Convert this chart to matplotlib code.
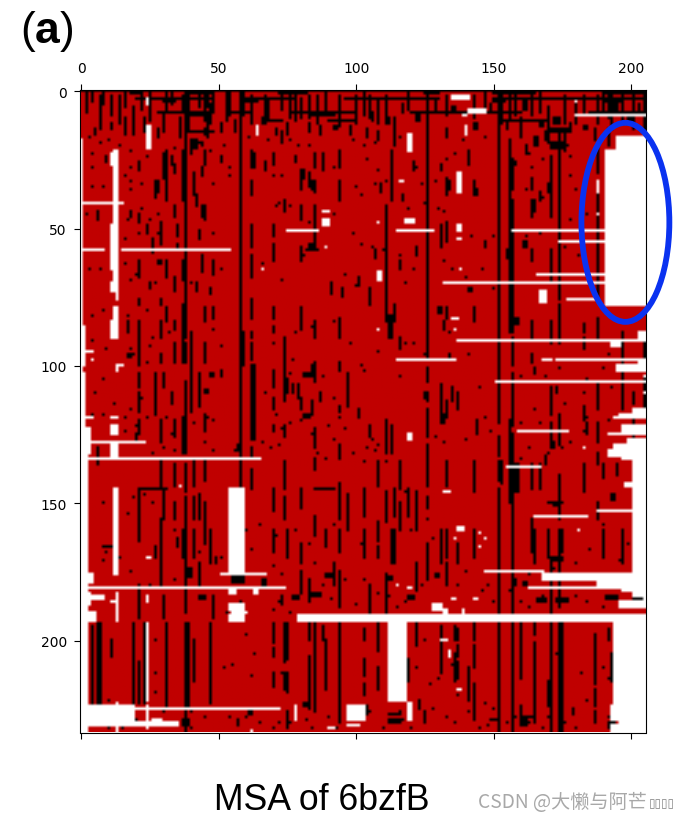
import numpy as np
import matplotlib
matplotlib.use("Agg")
import matplotlib.pyplot as plt
from matplotlib.colors import ListedColormap
from matplotlib.patches import Ellipse

N_ROWS, N_COLS = 234, 206
RED, BLACK, WHITE = 0, 1, 2
x_ticks = [0, 50, 100, 150, 200]
y_ticks = [0, 50, 100, 150, 200]

# long vertical black runs: column -> [(first row, last row), ...]
black_columns = {
    2: [(1, 8)], 4: [(195, 223), (1, 4)], 6: [(194, 223), (130, 136)], 7: [(194, 223), (2, 14)], 8: [(1, 5)],
    11: [(200, 206), (2, 9)], 14: [(2, 12)], 16: [(1, 6), (10, 16)], 17: [(84, 88)], 19: [(194, 223), (6, 13)],
    21: [(26, 29), (76, 78), (84, 100), (103, 108), (110, 117), (120, 125), (146, 156), (156, 164), (180, 192), (208, 223)],
    22: [(1, 7)], 23: [(194, 223), (10, 15)], 25: [(1, 11)], 27: [(34, 39), (103, 118), (166, 170)],
    29: [(76, 78), (84, 90), (96, 99), (120, 128), (134, 144), (156, 180)], 30: [(23, 32), (103, 108), (148, 156), (184, 192), (8, 15)],
    31: [(22, 40), (79, 84), (194, 225), (1, 7)], 33: [(1, 5)],
    34: [(27, 30), (42, 46), (84, 87), (92, 99), (120, 126), (136, 144), (150, 156)], 36: [(10, 17)],
    37: [(22, 40), (78, 99), (119, 132), (160, 170), (2, 7)], 38: [(0, 20), (18, 76), (76, 90), (92, 99), (106, 132), (136, 146), (148, 190), (194, 233)],
    39: [(0, 14), (194, 225)], 40: [(88, 117), (18, 23)], 41: [(30, 38), (134, 144), (148, 156), (160, 170), (200, 215)],
    43: [(103, 115), (147, 156), (172, 180), (2, 6)], 45: [(22, 27), (42, 47), (79, 84), (92, 99), (118, 124), (135, 142), (1, 11), (150, 165)],
    46: [(1, 6), (10, 17)], 47: [(194, 223), (160, 172), (5, 12)], 48: [(79, 83), (1, 8), (184, 192)],
    53: [(1, 11)], 54: [(1, 9)], 58: [(0, 144), (145, 146)], 59: [(1, 9), (88, 100)], 62: [(22, 28), (33, 38), (49, 57), (60, 68), (76, 83), (88, 90), (92, 98), (100, 127), (130, 133), (138, 145), (2, 12)],
    63: [(23, 28), (100, 127)], 67: [(2, 9)], 68: [(4, 10)],
    70: [(23, 27), (49, 53), (56, 62), (79, 83), (86, 88), (102, 108), (112, 116), (122, 124), (145, 153), (194, 201), (203, 206), (212, 217), (160, 168)],
    73: [(1, 7), (15, 19)], 74: [(40, 44), (90, 99), (100, 113), (122, 126), (135, 145), (148, 156), (194, 208), (212, 218)],
    75: [(194, 207), (212, 219), (105, 110), (160, 170)], 76: [(2, 10)], 78: [(1, 11)],
    80: [(30, 36), (42, 47), (57, 62), (79, 83), (84, 87), (112, 116), (145, 152), (165, 172), (175, 183), (3, 10)],
    83: [(30, 35), (194, 200), (206, 225), (178, 186), (2, 10)], 85: [(23, 28), (33, 37), (42, 56), (84, 90), (99, 106), (123, 130), (134, 138), (194, 225), (155, 162)],
    86: [(2, 12)], 88: [(23, 29), (195, 200)], 89: [(200, 218), (160, 166), (1, 8)],
    92: [(172, 180)], 94: [(22, 28), (33, 40), (83, 90), (99, 102), (129, 134), (194, 230), (143, 156), (175, 188), (160, 168), (2, 13)],
    97: [(103, 115), (147, 160)], 100: [(2, 12)], 103: [(196, 200), (207, 213), (216, 220), (1, 9), (145, 155), (160, 170)],
    105: [(72, 78), (180, 190), (2, 10)], 108: [(135, 144), (157, 164), (166, 170), (194, 204), (210, 218), (3, 12)],
    111: [(42, 76), (76, 84), (120, 132), (146, 157), (176, 190), (2, 9)], 113: [(22, 40), (82, 90), (122, 132), (205, 222), (160, 172)],
    114: [(78, 84), (160, 172), (145, 155), (10, 20), (194, 200)], 116: [(90, 94), (135, 145), (150, 160)], 119: [(145, 155), (1, 7), (207, 215)],
    122: [(146, 160), (194, 202), (172, 182)],
    126: [(0, 20), (20, 98), (101, 106), (110, 113), (116, 126), (129, 132), (133, 144), (148, 152), (165, 178)],
    131: [(107, 120), (195, 212), (160, 172)], 133: [(32, 38), (48, 55), (79, 83), (113, 117), (135, 144), (160, 170), (2, 9), (172, 180)],
    136: [(195, 200), (205, 215)], 137: [(196, 200), (202, 206), (208, 214), (165, 172), (110, 116)],
    141: [(22, 27), (210, 222)], 143: [(33, 38), (79, 84), (135, 146), (194, 200), (202, 210), (216, 229), (160, 170), (2, 10)],
    147: [(1, 8)], 152: [(0, 121), (126, 133), (135, 142), (145, 156), (156, 190), (194, 233)],
    153: [(1, 12), (135, 143)], 156: [(18, 88), (2, 10), (120, 150)],
    157: [(25, 36), (40, 88), (90, 100), (103, 122), (125, 145), (145, 233)], 158: [(1, 9)], 160: [(194, 214), (224, 231), (10, 16)],
    164: [(32, 36), (40, 46), (84, 90), (96, 99), (58, 62), (2, 9), (136, 145), (156, 168)], 165: [(194, 198), (201, 230), (160, 172)],
    167: [(136, 145), (1, 8)], 170: [(6, 14), (215, 224), (160, 170)],
    171: [(24, 46), (58, 70), (84, 92), (108, 118), (121, 130), (194, 233), (172, 190)], 174: [(14, 76), (78, 92), (118, 129), (140, 156), (160, 188), (194, 233)], 175: [(194, 233), (160, 168)],
    176: [(2, 12), (16, 22)], 180: [(5, 12)],
    183: [(90, 94), (115, 120), (140, 146), (2, 9)], 187: [(198, 216), (218, 224), (226, 230)],
    188: [(20, 30), (33, 76), (83, 90), (106, 116), (121, 128), (132, 136), (150, 156), (2, 12)],
    190: [(136, 141), (160, 170), (2, 9)], 192: [(2, 10), (14, 20), (196, 200)],
    193: [(2, 14), (205, 215)], 197: [(2, 12), (88, 116), (160, 172)], 201: [(2, 14), (110, 114), (120, 127)], 205: [(104, 116), (1, 14), (92, 100)],
}

# short black blocks as (first col, last col, first row, last row)
black_blocks = [
    (41, 42, 18, 21), (45, 46, 14, 16), (80, 81, 29, 32), (27, 28, 33, 37), (83, 85, 56, 57),
    (33, 33, 24, 27), (31, 31, 62, 68), (34, 34, 68, 73), (37, 37, 62, 69), (44, 44, 28, 31), (44, 44, 42, 46),
    (29, 29, 48, 56), (26, 26, 54, 59), (21, 21, 62, 68), (44, 44, 60, 66), (48, 48, 62, 67), (71, 71, 14, 16),
    (92, 93, 13, 14), (98, 98, 13, 16), (66, 67, 10, 12), (83, 83, 12, 15), (51, 51, 12, 15), (87, 87, 13, 16),
    (11, 11, 12, 14), (5, 5, 14, 16), (19, 19, 13, 16), (28, 28, 14, 17), (56, 56, 11, 15), (75, 75, 12, 16),
    (106, 106, 8, 11), (111, 112, 10, 12), (117, 117, 5, 8), (122, 123, 9, 11), (129, 129, 4, 7), (135, 136, 6, 8),
    (143, 144, 12, 14), (149, 149, 5, 8), (155, 155, 11, 14), (161, 162, 4, 7), (167, 168, 11, 13), (172, 174, 10, 12),
    (169, 170, 15, 18), (178, 178, 12, 15), (183, 184, 13, 14), (194, 195, 5, 7), (199, 200, 10, 12), (203, 203, 5, 9),
    (187, 187, 14, 18), (165, 166, 17, 20), (171, 175, 20, 21), (162, 162, 20, 23), (133, 133, 14, 17), (108, 108, 15, 18),
    (104, 104, 14, 17), (157, 158, 26, 27), (157, 157, 33, 35), (167, 167, 37, 40),
    (84, 84, 33, 36), (78, 78, 24, 26), (67, 67, 26, 29), (51, 51, 24, 26), (9, 9, 24, 26), (6, 6, 44, 47), (21, 21, 45, 48),
    (18, 18, 44, 46), (35, 35, 49, 53), (24, 24, 49, 52), (42, 42, 38, 42), (43, 43, 51, 54), (35, 35, 56, 58),
    (28, 29, 62, 63), (25, 25, 70, 72), (42, 42, 70, 73), (47, 47, 72, 74), (91, 91, 70, 74), (95, 95, 72, 75),
    (134, 134, 33, 36), (131, 131, 27, 29), (121, 121, 26, 29), (117, 117, 38, 40), (109, 109, 34, 37), (144, 144, 36, 38),
    (170, 170, 34, 37), (165, 165, 40, 44), (182, 182, 44, 46), (147, 147, 55, 57), (131, 131, 49, 57), (122, 122, 57, 60),
    (161, 162, 55, 57), (155, 155, 58, 61), (107, 107, 58, 61), (101, 101, 68, 71), (141, 142, 72, 73), (116, 116, 62, 65),
    (30, 30, 145, 150), (33, 33, 110, 114), (20, 20, 125, 128), (17, 18, 96, 97), (47, 48, 103, 104), (45, 45, 92, 95),
    (45, 46, 109, 110), (51, 51, 102, 104), (81, 84, 103, 104), (84, 84, 100, 103), (77, 77, 107, 110), (79, 79, 107, 112),
    (84, 84, 113, 118), (81, 83, 118, 119), (87, 87, 110, 113), (94, 94, 115, 117), (57, 57, 129, 131),
    (112, 112, 82, 90), (130, 131, 79, 81), (132, 132, 84, 87), (125, 125, 110, 112), (134, 134, 96, 98), (144, 144, 120, 125),
    (131, 131, 113, 116), (135, 135, 108, 113), (132, 133, 118, 119), (158, 159, 83, 85), (165, 165, 101, 103), (173, 173, 108, 110),
    (184, 184, 121, 125), (183, 183, 85, 88), (172, 172, 128, 130), (169, 169, 133, 135), (195, 195, 136, 140), (193, 194, 147, 149),
    (183, 183, 136, 140), (158, 159, 136, 146), (131, 132, 120, 121), (105, 105, 122, 126), (101, 101, 116, 119),
    (39, 40, 174, 177), (35, 35, 163, 166), (43, 45, 184, 185), (49, 49, 170, 172), (77, 79, 184, 185), (84, 87, 183, 184),
    (73, 73, 184, 187), (89, 91, 176, 177), (66, 67, 178, 180), (111, 113, 177, 178), (119, 121, 184, 185),
    (166, 169, 185, 186), (173, 177, 185, 186), (191, 195, 184, 185), (161, 162, 179, 180), (157, 158, 178, 180), (171, 175, 170, 171),
    (172, 174, 150, 151), (75, 75, 226, 232), (61, 62, 226, 227), (81, 83, 223, 224), (37, 39, 229, 231), (57, 57, 229, 231),
    (129, 130, 176, 177), (123, 123, 222, 225), (112, 116, 227, 227), (112, 116, 229, 230), (125, 125, 226, 230), (149, 151, 229, 229),
    (161, 162, 228, 231), (179, 179, 225, 227), (192, 194, 230, 232),
]

# horizontal black bits: row -> [(first col, last col), ...]
black_rows = {
    0: [(0, 205)], 1: [(18, 22), (38, 48), (72, 82), (125, 130), (150, 165), (190, 205)],
    3: [(20, 36), (38, 48), (60, 78), (96, 130), (150, 205)], 4: [(30, 34), (60, 64), (150, 154), (190, 196)],
    8: [(28, 48), (55, 62), (76, 100), (120, 160), (185, 205)], 9: [(38, 47), (84, 92)],
    11: [(68, 73), (90, 100), (152, 170)], 14: [(170, 178)], 15: [(38, 48), (171, 177)],
    19: [(40, 44), (170, 175)], 20: [(172, 177)], 58: [(82, 86)], 145: [(21, 31), (85, 92)], 166: [(8, 12)],
    177: [(55, 59)], 178: [(55, 59)], 179: [(55, 59)], 150: [(170, 175)], 228: [(160, 165)],
    224: [(103, 104)], 225: [(103, 104)], 226: [(103, 104)], 227: [(103, 104)],
}

# single black cells as (column, row)
black_specks = [
    (4, 23), (4, 28), (18, 28), (16, 31), (18, 33), (22, 34), (4, 35), (8, 35), (18, 36), (22, 43), (2, 45), (17, 47),
    (25, 47), (28, 45), (21, 52), (16, 54), (28, 52), (48, 52), (51, 65), (3, 65), (7, 65), (16, 63), (20, 67), (18, 69),
    (27, 70), (40, 70), (48, 34), (54, 31), (54, 28), (52, 20), (61, 17), (68, 18), (76, 18), (79, 20), (83, 20), (103, 20),
    (99, 18), (100, 35), (73, 31), (70, 31), (92, 28), (92, 45), (99, 52), (102, 56), (96, 67), (100, 71), (73, 69),
    (66, 63), (76, 42), (72, 41), (71, 42), (83, 48), (80, 46), (80, 57), (83, 58), (81, 60), (3, 17), (7, 19), (10, 18),
    (14, 20), (18, 22), (24, 24), (34, 21), (44, 20), (47, 22), (116, 17), (107, 19), (104, 25), (108, 29), (111, 33),
    (122, 28), (124, 34), (119, 43), (125, 41), (130, 43), (133, 25), (136, 23), (131, 29), (129, 33), (147, 17), (139, 18),
    (160, 17), (163, 23), (168, 25), (178, 24), (185, 27), (157, 33), (162, 36), (168, 39), (178, 31), (180, 36), (184, 45),
    (164, 28), (178, 47), (162, 53), (167, 52), (176, 57), (181, 60), (102, 38), (107, 34), (118, 47), (132, 44), (142, 53),
    (150, 53), (116, 60), (106, 57), (110, 58), (121, 65), (146, 65), (132, 62), (140, 68), (150, 72), (118, 70), (135, 65),
    (4, 82), (8, 80), (17, 82), (24, 80), (26, 90), (4, 91), (9, 94), (18, 94), (25, 93), (32, 88), (48, 87), (51, 93),
    (19, 96), (24, 99), (70, 92), (78, 88), (84, 86), (92, 84), (98, 92), (77, 98), (84, 104), (88, 104), (92, 112),
    (103, 102), (76, 103), (67, 110), (71, 118), (22, 112), (18, 116), (8, 105), (5, 110), (4, 118), (8, 118), (12, 114),
    (16, 119), (24, 119), (31, 119), (41, 121), (46, 119), (48, 120), (20, 122), (16, 124), (29, 123), (33, 125), (45, 128),
    (48, 131), (34, 131), (30, 130), (26, 132), (56, 131), (66, 128), (69, 130), (72, 129), (84, 125), (90, 122), (94, 119),
    (96, 123), (101, 119), (92, 127), (86, 132), (99, 132), (89, 134), (82, 118), (80, 120), (76, 121), (73, 123),
    (103, 135), (106, 127), (108, 129), (111, 135), (116, 104), (108, 95), (102, 100), (118, 92), (121, 92), (125, 96),
    (112, 88), (132, 86), (134, 88), (141, 96), (145, 108), (149, 124), (144, 122), (140, 127), (129, 126), (132, 128),
    (105, 125), (104, 130), (107, 131), (118, 146), (114, 150), (147, 119), (160, 121), (165, 116), (173, 110), (180, 106),
    (165, 102), (169, 104), (174, 101), (184, 105), (190, 101), (192, 96), (193, 108), (183, 110), (176, 114), (160, 104),
    (167, 121), (170, 132), (175, 130), (184, 119), (183, 124), (192, 120), (178, 128), (163, 130), (160, 134), (169, 136),
    (8, 150), (14, 170), (19, 148), (26, 150), (17, 154), (23, 147), (34, 160), (43, 168), (51, 170), (62, 167), (70, 173),
    (73, 176), (8, 171), (18, 175), (25, 180), (34, 178), (9, 168), (53, 190), (58, 186), (72, 186), (70, 189), (76, 190),
    (88, 180), (91, 185), (96, 178), (100, 187), (103, 178), (85, 172), (83, 165), (65, 158), (60, 160), (71, 162),
    (78, 160), (94, 192), (92, 158), (102, 165), (120, 160), (126, 156), (128, 163), (140, 175), (148, 180), (137, 180),
    (130, 176), (124, 180), (118, 186), (112, 184), (108, 183), (105, 188), (115, 188), (146, 182), (150, 186), (163, 188),
    (168, 184), (180, 184), (184, 186), (190, 188), (194, 184), (197, 188), (185, 167), (190, 158), (199, 165), (196, 171),
    (180, 172), (172, 174), (174, 176), (163, 176), (160, 186), (156, 182), (166, 186),
    (60, 198), (63, 205), (52, 210), (73, 212), (62, 213), (55, 209), (27, 200), (27, 212), (27, 219), (10, 222), (50, 225),
    (72, 230), (60, 228), (65, 230), (54, 228), (40, 226), (45, 228), (30, 226), (32, 230), (20, 229), (10, 232), (15, 232),
    (40, 232), (38, 231), (82, 229), (85, 226), (93, 232), (100, 229), (84, 232), (70, 232), (76, 230), (90, 228),
    (125, 200), (122, 210), (127, 216), (130, 214), (135, 209), (137, 220), (141, 226), (147, 223), (133, 228), (128, 225),
    (117, 229), (113, 227), (116, 226), (120, 232), (110, 232), (105, 226), (125, 230), (136, 230), (145, 232), (148, 231),
    (182, 212), (184, 222), (190, 210), (192, 214), (187, 230), (192, 228), (198, 232), (195, 228), (180, 232), (163, 230),
    (155, 230), (158, 228), (168, 232), (150, 225), (170, 228), (176, 230), (173, 205),
]

# white gaps as (first col, last col, first row, last row)
white_blocks = [
    (0, 0, 18, 233), (1, 1, 86, 100), (1, 1, 103, 233), (2, 2, 130, 233), (0, 4, 176, 179), (0, 5, 190, 193), (0, 19, 224, 229), (1, 35, 230, 231),
    (12, 13, 22, 48), (11, 13, 23, 27), (11, 13, 49, 60), (12, 13, 60, 69), (11, 13, 61, 65), (11, 13, 70, 73), (13, 13, 73, 76),
    (12, 13, 79, 84), (11, 13, 84, 90), (13, 15, 100, 100), (13, 13, 100, 102), (11, 13, 122, 125),
    (11, 13, 119, 119), (1, 15, 41, 41), (1, 8, 58, 58), (15, 54, 58, 58), (24, 25, 13, 21), (24, 24, 3, 5),
    (64, 64, 13, 16), (66, 66, 65, 65), (88, 90, 44, 44), (88, 90, 47, 49), (89, 89, 57, 57), (75, 86, 51, 51),
    (135, 141, 2, 3), (141, 147, 7, 8), (139, 140, 9, 9), (140, 140, 13, 16), (119, 120, 16, 22), (180, 180, 4, 4),
    (180, 205, 9, 9), (191, 205, 22, 78), (195, 205, 17, 21), (137, 138, 30, 32), (137, 138, 33, 37), (116, 117, 33, 33),
    (188, 188, 33, 37), (188, 188, 45, 45), (118, 121, 47, 48), (108, 108, 48, 48), (137, 138, 49, 51),
    (115, 123, 51, 51), (124, 128, 51, 51), (157, 190, 51, 51), (174, 190, 55, 55), (137, 138, 54, 54), (138, 138, 65, 65),
    (166, 190, 67, 67), (132, 190, 70, 70), (108, 109, 66, 69), (167, 169, 73, 77), (177, 187, 76, 76),
    (135, 137, 83, 83), (108, 108, 87, 87), (136, 136, 87, 87), (203, 205, 88, 90), (137, 205, 91, 91), (193, 196, 92, 93),
    (115, 136, 98, 98), (168, 171, 98, 98), (173, 202, 98, 98), (203, 205, 98, 102), (195, 202, 100, 102), (205, 205, 104, 104),
    (151, 205, 106, 106), (205, 205, 110, 110), (201, 205, 116, 118), (196, 205, 118, 119), (194, 196, 119, 119),
    (197, 205, 122, 125), (192, 196, 125, 125), (159, 177, 124, 124), (119, 120, 125, 127), (183, 183, 130, 130),
    (199, 205, 127, 129), (194, 205, 129, 131), (192, 205, 131, 133), (197, 200, 134, 134), (201, 205, 133, 176),
    (155, 167, 137, 137), (198, 200, 143, 144), (132, 134, 146, 146), (188, 200, 153, 153), (165, 184, 155, 155),
    (137, 139, 159, 160), (136, 136, 163, 163), (147, 147, 163, 163), (145, 145, 161, 161), (145, 145, 166, 166), (181, 181, 160, 160),
    (147, 168, 175, 175), (168, 205, 176, 178), (188, 205, 179, 181), (163, 187, 181, 181), (197, 205, 182, 182), (201, 205, 183, 186),
    (196, 205, 186, 188), (79, 205, 191, 193), (194, 205, 194, 224), (193, 205, 224, 229), (196, 205, 230, 230), (193, 205, 231, 233),
    (112, 118, 194, 222), (128, 131, 187, 189), (132, 133, 189, 190), (139, 139, 189, 190), (135, 136, 185, 185),
    (143, 144, 185, 185), (115, 115, 180, 180), (119, 120, 181, 181), (97, 103, 224, 229), (119, 120, 223, 229),
    (134, 134, 204, 206), (131, 133, 200, 200), (137, 138, 218, 218), (97, 101, 231, 231), (90, 92, 232, 232),
    (54, 59, 145, 176), (51, 67, 176, 176), (12, 13, 145, 176), (24, 24, 194, 222), (13, 13, 223, 233), (20, 72, 225, 225),
    (24, 24, 224, 229), (1, 74, 181, 181), (3, 8, 184, 185), (1, 3, 183, 187), (11, 13, 186, 186), (24, 24, 184, 186),
    (13, 13, 183, 193), (54, 56, 182, 183), (63, 64, 182, 183), (54, 59, 187, 189), (55, 60, 190, 190), (54, 59, 191, 193),
    (24, 25, 170, 170), (78, 78, 224, 229), (62, 62, 233, 233), (24, 24, 232, 232), (26, 29, 229, 229),
    (1, 23, 128, 128), (11, 13, 129, 133), (2, 65, 134, 134), (2, 3, 126, 126), (1, 4, 119, 119), (1, 4, 95, 95),
    (4, 4, 98, 98), (36, 36, 144, 144), (2, 3, 123, 132),
]

grid = np.zeros((N_ROWS, N_COLS), dtype=int)
for col, spans in black_columns.items():
    for first, last in spans:
        grid[first:last + 1, col] = BLACK
for c0, c1, r0, r1 in black_blocks:
    grid[r0:r1 + 1, c0:c1 + 1] = BLACK
for row, spans in black_rows.items():
    for first, last in spans:
        grid[row, first:last + 1] = BLACK
for col, row in black_specks:
    grid[row, col] = BLACK
for c0, c1, r0, r1 in white_blocks:
    grid[r0:r1 + 1, c0:c1 + 1] = WHITE
grid[185, 201:205] = BLACK

plt.rcParams["mathtext.fontset"] = "custom"
plt.rcParams["mathtext.rm"] = "Liberation Sans"
plt.rcParams["mathtext.bf"] = "Liberation Sans:bold"

fig = plt.figure(figsize=(6.92, 8.2), dpi=100)
ax = fig.add_axes([80 / 692, 1 - 733.5 / 820, 566 / 692, 642.5 / 820])
ax.imshow(grid, cmap=ListedColormap(["#C00000", "#000000", "#FFFFFF"]), vmin=0, vmax=2,
          aspect="auto", interpolation="bilinear")
ax.set_xticks(x_ticks)
ax.set_yticks(y_ticks)
ax.tick_params(axis="y", length=4.5, pad=5, labelsize=10)
ax.tick_params(axis="x", length=4.5, pad=6, top=True, labeltop=True, bottom=True, labelbottom=False, labelsize=10)
ax.add_patch(Ellipse((198, 47.7), 32, 72.5, fill=False, edgecolor="#0A32F0", linewidth=4.2, clip_on=False, zorder=5))

sans = ["Liberation Sans", "DejaVu Sans"]
fig.text(20 / 692, 1 - 43 / 820, r"($\mathbf{a}$)", fontsize=32, family=sans, color="black")
fig.text(322 / 692, 1 - 810 / 820, "MSA of 6bzfB", fontsize=25.7, family=sans, ha="center", color="black")
fig.text(478 / 692, 1 - 808 / 820, "CSDN @大懒与阿芒", fontsize=13.8,
         family=["Noto Sans CJK SC", "DejaVu Sans"], color="#a8a8a8")
fig.text(649 / 692, 1 - 807 / 820, "\u25af\u25af\u25af\u25af", fontsize=8.5, family=["DejaVu Sans"], color="#808080")
fig.savefig("out.png", dpi=100)
